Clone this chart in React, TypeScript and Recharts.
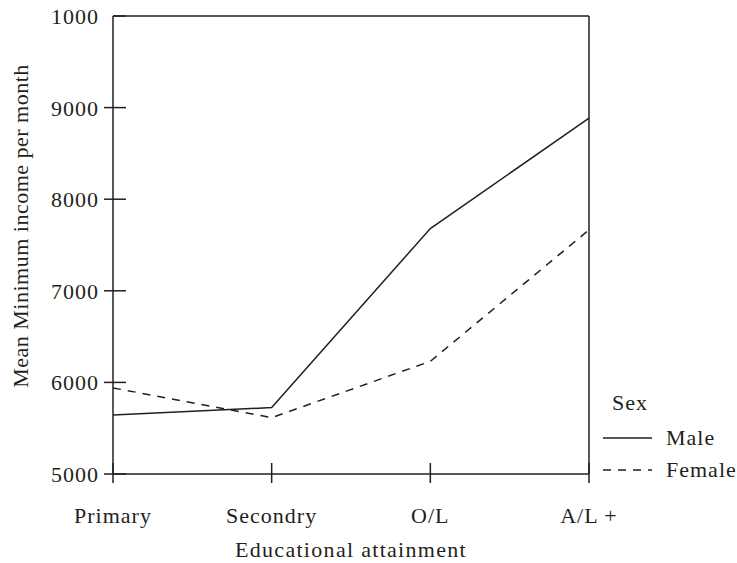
import { LineChart, Line, XAxis, YAxis, Legend, ReferenceLine } from "recharts";

const CATEGORIES = ["Primary", "Secondry", "O/L", "A/L +"];
const MALE = [5645, 5725, 7680, 8885];
const FEMALE = [5940, 5615, 6230, 7665];
const SERIES = ["Male", "Female"];
const Y_TICKS = [5000, 6000, 7000, 8000, 9000, 10000];
// the top label is printed as "1000" in the source figure
const Y_TICK_LABELS = ["5000", "6000", "7000", "8000", "9000", "1000"];

const data = CATEGORIES.map((cat, i) => ({ cat, Male: MALE[i], Female: FEMALE[i] }));

const INK = "#231f20";
const FONT = "'Liberation Serif', 'Times New Roman', serif";
const FS = 22;
const LS = 1;

const YTick = ({ x, y, payload }: any) => {
  const top = payload.value === Y_TICKS[Y_TICKS.length - 1];
  const label = Y_TICK_LABELS[Y_TICKS.indexOf(payload.value)];
  return (
    <g>
      <line x1={top ? x : x - 9} x2={x + 13} y1={y} y2={y} stroke={INK} strokeWidth={1.5} />
      <text x={x - 14} y={y + 8} textAnchor="end" fill={INK} fontFamily={FONT} fontSize={FS}
        letterSpacing={LS}>
        {label}
      </text>
    </g>
  );
};

const XTick = ({ x, y, payload }: any) => (
  <g>
    <line x1={x} x2={x} y1={y - 11} y2={y + 9} stroke={INK} strokeWidth={1.5} />
    <text x={x} y={y + 49} textAnchor="middle" fill={INK} fontFamily={FONT} fontSize={FS}
      letterSpacing={LS}>
      {payload.value}
    </text>
  </g>
);

const LegendBox = ({ payload }: any) => {
  const items = [...(payload || [])].sort(
    (a: any, b: any) => SERIES.indexOf(a.value) - SERIES.indexOf(b.value));
  return (
    <svg width={137} height={100} style={{ display: "block" }}>
      <text x={12} y={20} fill={INK} fontFamily={FONT} fontSize={FS} letterSpacing={LS}>Sex</text>
      {items.map((p: any, i: number) => {
        const ly = 48 + i * 32;
        const dashed = p.value === "Female";
        return (
          <g key={p.value}>
            <line x1={3} x2={52} y1={ly} y2={ly} stroke={INK} strokeWidth={1.5}
              strokeDasharray={dashed ? "8 7" : undefined} />
            <text x={66} y={ly + 7} fill={INK} fontFamily={FONT} fontSize={FS}
              letterSpacing={LS}>{p.value}</text>
          </g>
        );
      })}
    </svg>
  );
};

export default function App() {
  return (
    <div style={{ position: "absolute", left: 0, top: 0, background: "#fff" }}>
      <LineChart width={737} height={563} data={data}
        margin={{ top: 16, right: 148, left: 112, bottom: 88 }}>
        <XAxis dataKey="cat" scale="point" padding={{ left: 0, right: 0 }} height={1}
          interval={0} tickSize={0} tickMargin={0} tickLine={false}
          axisLine={{ stroke: INK, strokeWidth: 1.5 }} tick={<XTick />}
          label={() => (
            <text x={351} y={557} textAnchor="middle" fill={INK} fontFamily={FONT} fontSize={FS}
              letterSpacing={1.3}>
              Educational attainment
            </text>
          )} />
        <YAxis type="number" domain={[5000, 10000]} ticks={Y_TICKS} interval={0} width={1}
          tickSize={0} tickMargin={0} tickLine={false}
          axisLine={{ stroke: INK, strokeWidth: 1.5 }} tick={<YTick />}
          label={() => (
            <text x={28} y={226} transform="rotate(-90 28 226)" textAnchor="middle" fill={INK}
              fontFamily={FONT} fontSize={FS} letterSpacing={0.5}>
              Mean Minimum income per month
            </text>
          )} />
        <ReferenceLine y={10000} stroke={INK} strokeWidth={1.5} />
        <ReferenceLine x="A/L +" stroke={INK} strokeWidth={1.5} />
        <Legend layout="vertical" align="center" verticalAlign="middle" content={<LegendBox />}
          wrapperStyle={{ left: 600, top: 390, width: 137 }} />
        <Line type="linear" dataKey="Male" name="Male" stroke={INK} strokeWidth={1.5}
          dot={false} isAnimationActive={false} />
        <Line type="linear" dataKey="Female" name="Female" stroke={INK} strokeWidth={1.5}
          strokeDasharray="8 7" dot={false} isAnimationActive={false} />
      </LineChart>
    </div>
  );
}
